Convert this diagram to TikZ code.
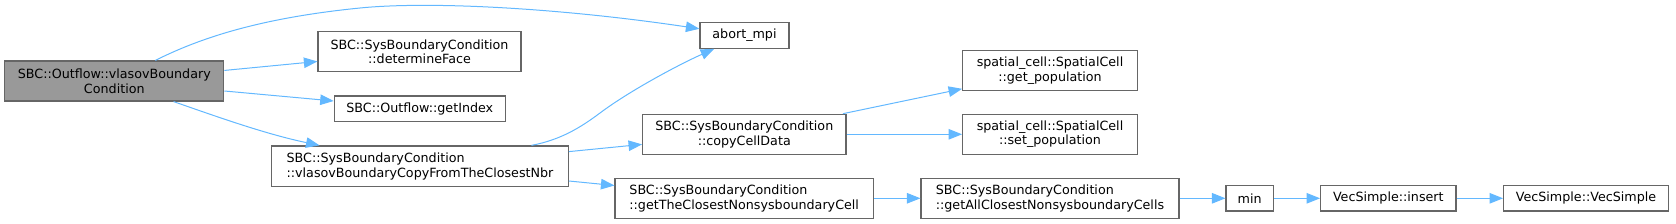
\documentclass[tikz,border=0pt]{standalone}
\usepackage{fontspec}
\setmainfont{DejaVu Sans}
\usetikzlibrary{arrows.meta}
\definecolor{callblue}{HTML}{63B8FF}
\definecolor{boxgrey}{HTML}{666666}
\definecolor{rootgrey}{HTML}{999999}

\begin{document}
\begin{tikzpicture}[x=1pt,y=-1pt,>={Triangle[length=13.5pt,width=10.5pt]},
  fnbox/.style={draw=boxgrey,line width=1.2pt,fill=white,inner sep=0pt,
    font=\fontsize{12.7}{14.7}\selectfont,align=center},
  rootbox/.style={fnbox,fill=rootgrey},
  call/.style={->,callblue,line width=1pt}]
  \useasboundingbox (0,0) rectangle (1676,224);
  % nodes
  \node[rootbox,minimum width=219pt,minimum height=40pt] (outflow) at (114.3,81) {SBC::Outflow::vlasovBoundary\\Condition};
  \node[fnbox,minimum width=203pt,minimum height=40pt] (face) at (419.5,51.7) {SBC::SysBoundaryCondition\\::determineFace};
  \node[fnbox,minimum width=171pt,minimum height=25.7pt] (index) at (419.8,108.8) {SBC::Outflow::getIndex};
  \node[fnbox,align=left,minimum width=296.6pt,minimum height=40.7pt] (copyfrom) at (420,166.3) {SBC::SysBoundaryCondition\\::vlasovBoundaryCopyFromTheClosestNbr};
  \node[fnbox,minimum width=89pt,minimum height=25.6pt] (abort) at (744.5,35.5) {abort\_mpi};
  \node[fnbox,minimum width=203.3pt,minimum height=40pt] (copydata) at (744.3,134.3) {SBC::SysBoundaryCondition\\::copyCellData};
  \node[fnbox,align=left,minimum width=258.3pt,minimum height=40pt] (closest) at (744.2,198.3) {SBC::SysBoundaryCondition\\::getTheClosestNonsysboundaryCell};
  \node[fnbox,minimum width=174.6pt,minimum height=39.6pt] (getpop) at (1050,70.5) {spatial\_cell::SpatialCell\\::get\_population};
  \node[fnbox,minimum width=174.6pt,minimum height=40pt] (setpop) at (1050,134.3) {spatial\_cell::SpatialCell\\::set\_population};
  \node[fnbox,align=left,minimum width=258pt,minimum height=40pt] (allclosest) at (1050,198.3) {SBC::SysBoundaryCondition\\::getAllClosestNonsysboundaryCells};
  \node[fnbox,minimum width=47.3pt,minimum height=25.3pt] (min) at (1249.7,198.3) {min};
  \node[fnbox,minimum width=135.3pt,minimum height=25.3pt] (insert) at (1388.3,198.3) {VecSimple::insert};
  \node[fnbox,minimum width=164.6pt,minimum height=25.3pt] (vecsimple) at (1586,198.3) {VecSimple::VecSimple};
  % calls
  \draw[call] (outflow) .. controls (200,38) and (260,18) .. (360,8) .. controls (430,1) and (560,8) .. (abort);
  \draw[call] (outflow) -- (face);
  \draw[call] (outflow) -- (index);
  \draw[call] (outflow) .. controls (215,116) and (265,134) .. (copyfrom);
  \draw[call] (copyfrom) .. controls (560,140) and (580,128) .. (600,113) .. controls (630,90.5) and (680,64) .. (abort);
  \draw[call] (copyfrom) -- (copydata);
  \draw[call] (copyfrom) -- (closest);
  \draw[call] (copydata) -- (getpop);
  \draw[call] (copydata) -- (setpop);
  \draw[call] (closest) -- (allclosest);
  \draw[call] (allclosest) -- (min);
  \draw[call] (min) -- (insert);
  \draw[call] (insert) -- (vecsimple);
\end{tikzpicture}
\end{document}
